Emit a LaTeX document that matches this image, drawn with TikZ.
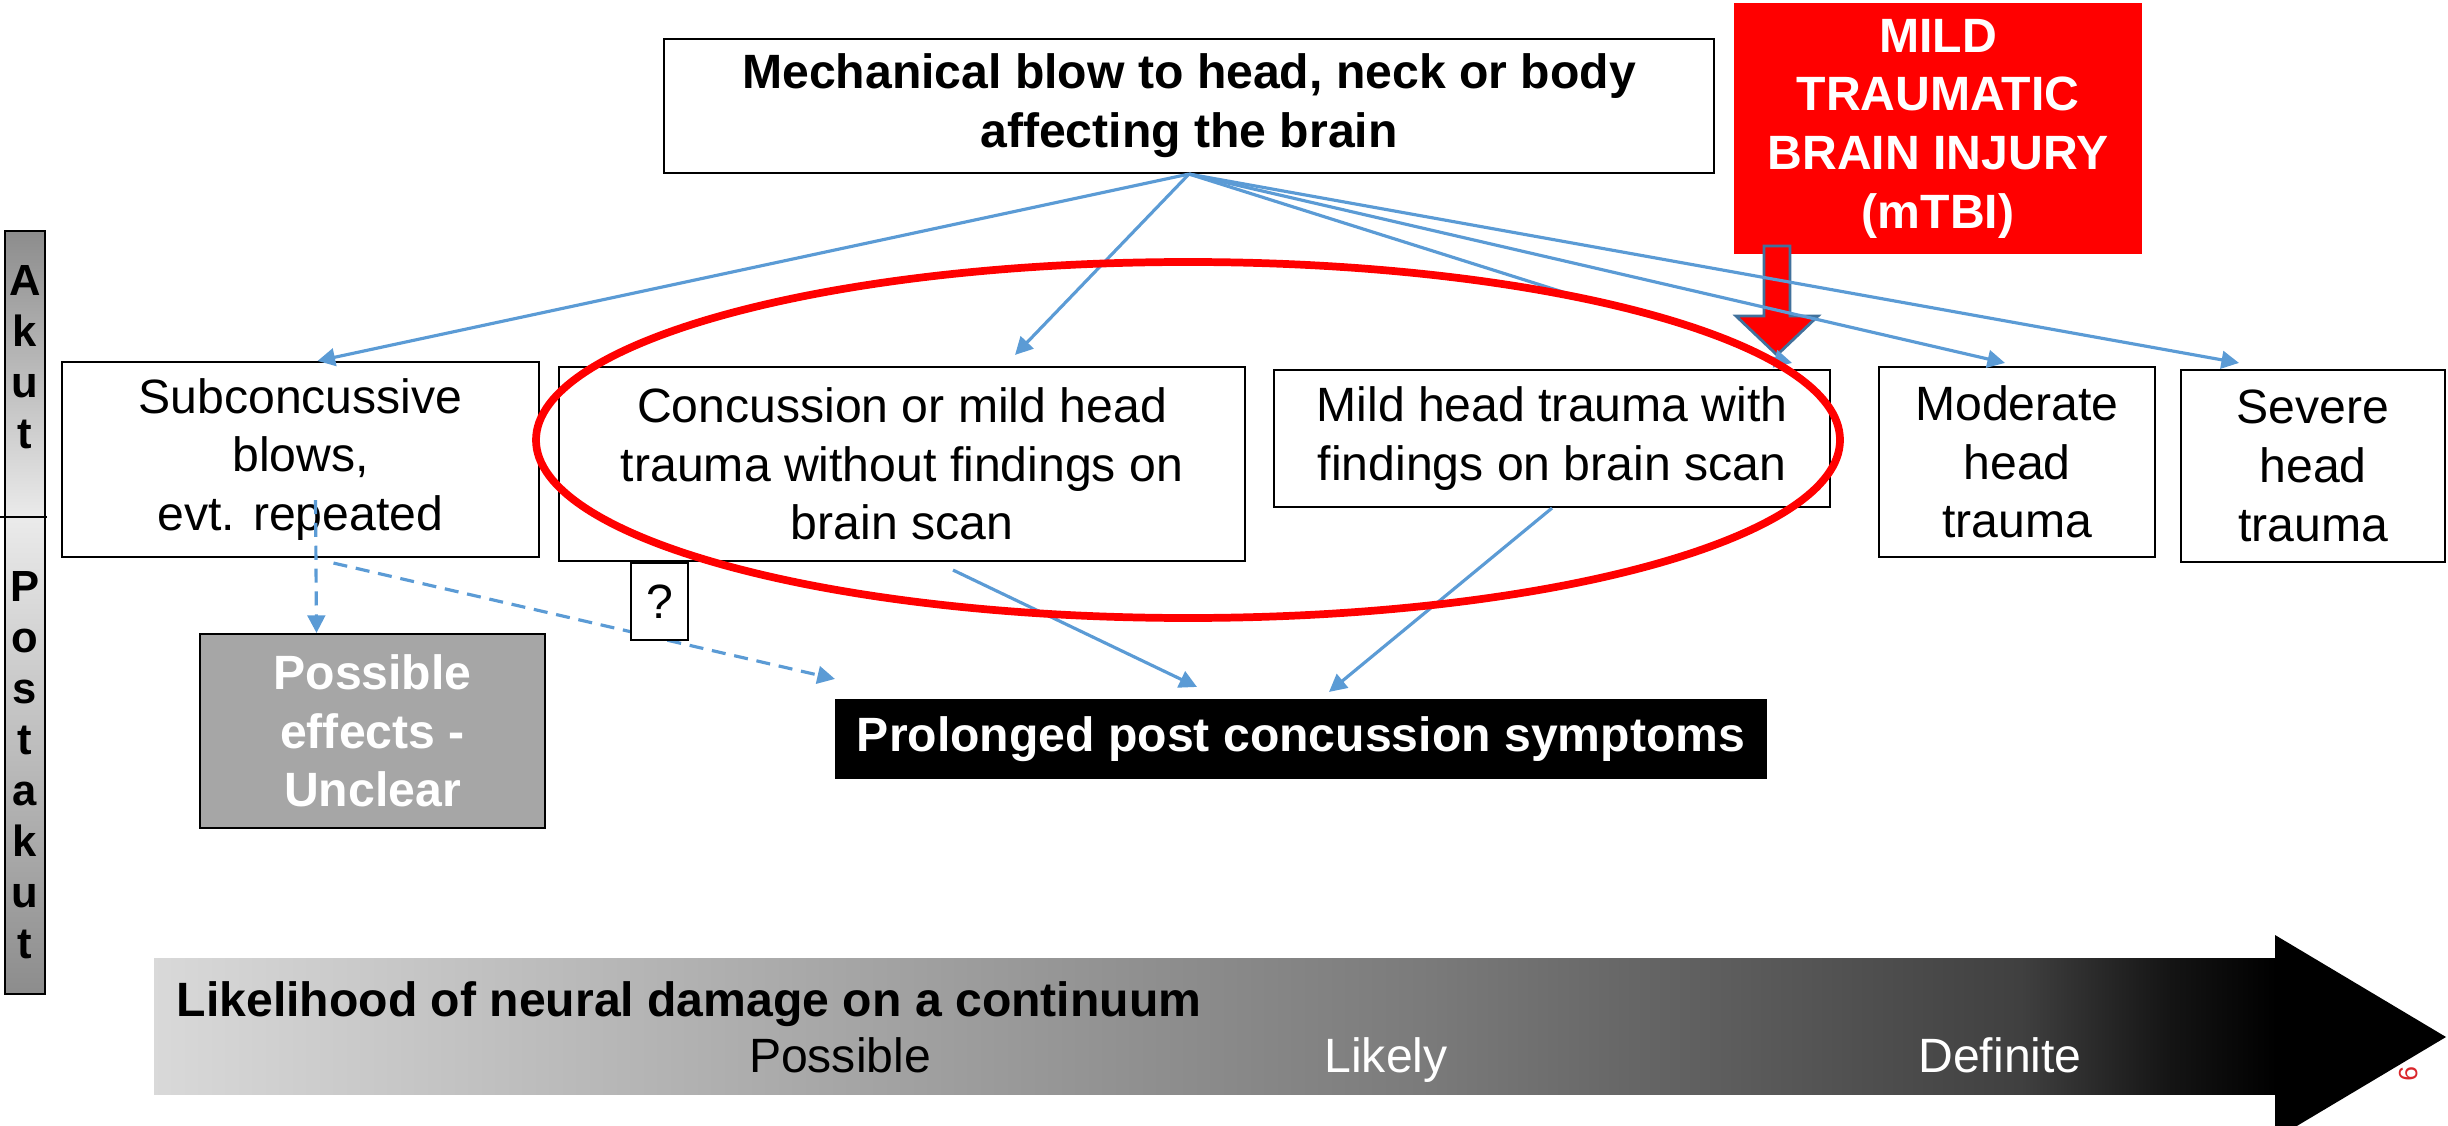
\documentclass[tikz,border=0pt]{standalone}
\usepackage{fontspec}
\setmainfont{Liberation Sans}
\usetikzlibrary{arrows.meta}
\definecolor{linkblue}{HTML}{5B9BD5}
\definecolor{outlineblue}{HTML}{41719C}
\definecolor{effectgray}{HTML}{A6A6A6}
\definecolor{slidered}{HTML}{FF0000}
\definecolor{pagered}{HTML}{D9262B}
\newcommand{\slidefont}{\fontsize{13.7}{16.7}\selectfont}
\pgfdeclarehorizontalshading{likelihood}{100bp}{color(0bp)=(black!15); color(25bp)=(black!15); color(55bp)=(black!52); color(69bp)=(black!75); color(72.5bp)=(black!92); color(75bp)=(black); color(100bp)=(black)}

\begin{document}
\begin{tikzpicture}[
        box/.style={draw, fill=white, line width=0.6pt, inner sep=0pt, align=center, font=\slidefont},
        link/.style={linkblue, line width=0.9pt, -{Triangle[length=5pt,width=5pt]}},
        dlink/.style={link, dash pattern=on 4pt off 2.5pt},
        barletters/.style={font=\fontsize{12.4}{14.5}\selectfont\bfseries, align=center}]
        \useasboundingbox (0,0) rectangle (24.48,11.25);
        \shadedraw[top color=black!45, bottom color=black!8] (0.05,6.08) rectangle (0.45,8.94);
        \shadedraw[top color=black!8, bottom color=black!45] (0.05,1.31) rectangle (0.45,6.08);
        \draw (0,6.08) -- (0.47,6.08);
        \node[barletters] (akut) at (0.25,7.68) {A\\k\\u\\t};
        \node[barletters] (postakut) at (0.25,3.60) {P\\o\\s\\t\\a\\k\\u\\t};
        \shade[shading=likelihood] (1.54,0.31) rectangle (22.76,1.67);
        \fill (22.75,1.90) -- (24.46,0.88) -- (22.75,-0.14) -- cycle;
        \node[anchor=base west, inner sep=0pt, font=\slidefont\bfseries] (scale) at (1.76,1.09) {Likelihood of neural damage on a continuum};
        \node[anchor=base, font=\slidefont] (possible) at (8.40,0.53) {Possible};
        \node[anchor=base, font=\slidefont, text=white] (likely) at (13.86,0.53) {Likely};
        \node[anchor=base, font=\slidefont, text=white] (definite) at (20.00,0.53) {Definite};
        \node[rotate=-90, text=pagered, font=\fontsize{7.5}{8}\selectfont] (page) at (24.09,0.51) {9};
        \node[fill=slidered, text=white, minimum width=4.08cm, minimum height=2.51cm, inner sep=0pt, align=center, font=\slidefont\bfseries] (mtbi) at (19.38,9.965) {MILD\\TRAUMATIC\\BRAIN INJURY\\(mTBI)};
        \filldraw[fill=slidered, draw=outlineblue, line width=0.8pt] (17.64,8.79) -- (17.90,8.79) -- (17.90,8.09) -- (18.18,8.09) -- (17.77,7.70) -- (17.36,8.09) -- (17.64,8.09) -- cycle;
        \node[box, minimum width=10.5cm, minimum height=1.34cm, font=\slidefont\bfseries] (blow) at (11.89,10.19) {Mechanical blow to head, neck or body\\affecting the brain};
        \node[box, minimum width=4.77cm, minimum height=1.95cm] (sub) at (3.005,6.655) {Subconcussive\\blows,\\evt. repeated};
        \node[box, minimum width=6.86cm, minimum height=1.94cm] (conc) at (9.02,6.61) {Concussion or mild head\\trauma without findings on\\brain scan};
        \node[box, minimum width=5.56cm, minimum height=1.37cm] (mild) at (15.52,6.865) {Mild head trauma with\\findings on brain scan};
        \node[box, minimum width=2.76cm, minimum height=1.90cm] (moderate) at (20.17,6.63) {Moderate\\head\\trauma};
        \node[box, minimum width=2.64cm, minimum height=1.92cm] (severe) at (23.13,6.59) {Severe\\head\\trauma};
        \node[box, minimum width=3.45cm, minimum height=1.94cm, fill=effectgray, text=white, font=\slidefont\bfseries] (effects) at (3.725,3.94) {Possible\\effects -\\Unclear};
        \node[box, minimum width=9.30cm, minimum height=0.78cm, fill=black, text=white, font=\slidefont\bfseries] (prolonged) at (13.01,3.86) {Prolonged post concussion symptoms};
        \coordinate (mildgapA) at (15.66,8.32);
        \coordinate (mildgapB) at (17.72,7.67);
        \draw[link] (blow.south) -- ([xshift=1.7mm]sub.north);
        \draw[link] (blow.south) -- ([xshift=11.3mm,yshift=1.1mm]conc.north);
        \draw[linkblue, line width=0.9pt] (blow.south) -- (mildgapA);
        \draw[link] (mildgapB) -- ([xshift=-3.9mm,yshift=0.6mm]mild.north east);
        \draw[link] (blow.south) -- ([xshift=-1.2mm,yshift=0.3mm]moderate.north);
        \draw[link] (blow.south) -- ([xshift=-7.4mm,yshift=0.6mm]severe.north);
        \draw[dlink] ([xshift=1.5mm,yshift=5.8mm]sub.south) -- ([xshift=-5.6mm]effects.north);
        \draw[dlink] ([xshift=3.3mm,yshift=-0.5mm]sub.south) -- ([yshift=2mm]prolonged.north west);
        \node[box, minimum width=0.57cm, minimum height=0.77cm] (query) at (6.595,5.235) {?};
        \draw[link] ([xshift=5.1mm,yshift=-0.8mm]conc.south) -- ([xshift=-10.4mm,yshift=1.2mm]prolonged.north);
        \draw[link] (mild.south) -- ([xshift=2.8mm,yshift=0.7mm]prolonged.north);
        \draw[slidered, line width=2.2pt] (11.88,6.85) ellipse (6.52 and 1.78);
\end{tikzpicture}
\end{document}
